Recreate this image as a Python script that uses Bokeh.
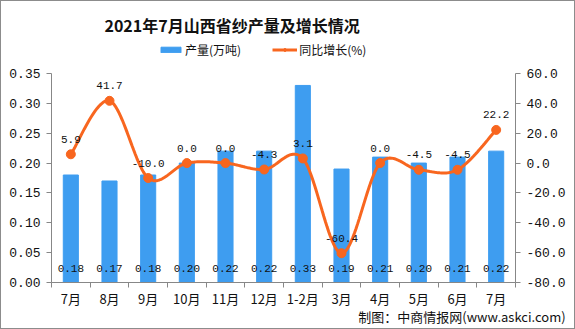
import numpy as np
from bokeh.plotting import figure
from bokeh.layouts import column
from bokeh.models import (Range1d, LinearAxis, FixedTicker, Legend, LegendItem,
                          Label, ColumnDataSource, NumeralTickFormatter)
from bokeh.core.properties import value
from bokeh.embed import file_html
from bokeh.resources import INLINE

# ---- data ----
categories = ["7月", "8月", "9月", "10月", "11月", "12月", "1-2月", "3月", "4月", "5月", "6月", "7月"]
output = [0.18, 0.17, 0.18, 0.20, 0.22, 0.22, 0.33, 0.19, 0.21, 0.20, 0.21, 0.22]
growth = [5.9, 41.7, -10.0, 0.0, 0.0, -4.3, 3.1, -60.4, 0.0, -4.5, -4.5, 22.2]
left_ticks = [0.0, 0.05, 0.10, 0.15, 0.20, 0.25, 0.30, 0.35]
right_ticks = [-80, -60, -40, -20, 0, 20, 40, 60]
title_text = "2021年7月山西省纱产量及增长情况"
bar_name = "产量(万吨)"
line_name = "同比增长(%)"
note_text = "制图：中商情报网(www.askci.com)"

BLUE = "#3E9DF0"
ORANGE = "#F8661F"
AXIS = "#878787"
MONO = "Liberation Mono"
CJK = "Noto Sans CJK SC"
W = 573

n = len(categories)
xs = list(range(n))

# ---------------- header (title + legend) ----------------
head = figure(width=W, height=60, output_backend="svg", toolbar_location=None,
              x_range=Range1d(0, W), y_range=Range1d(0, 60), min_border=0,
              x_axis_location=None, y_axis_location=None)
head.grid.visible = False
head.outline_line_color = None
head.add_layout(Label(x=223, y=37, text=title_text, text_align="center", text_baseline="middle",
                      text_font=CJK, text_font_size="16px", text_font_style="bold",
                      text_color="#111111"))
# legend-only renderers (no drawable points)
empty = ColumnDataSource(dict(x=np.array([np.nan]), y=np.array([np.nan]), top=np.array([np.nan])))
lb = head.vbar(x="x", top="top", width=1, color=BLUE, source=empty)
ll = head.line(x="x", y="y", line_color=ORANGE, line_width=3, source=empty)
ls = head.scatter(x="x", y="y", size=8, color=ORANGE, source=empty)
legend = Legend(items=[LegendItem(label=bar_name, renderers=[lb]),
                       LegendItem(label=line_name, renderers=[ll, ls])],
                orientation="horizontal", location=(107, 3),
                glyph_width=25, glyph_height=7, label_standoff=2, spacing=31,
                padding=0, margin=0, border_line_color=None, background_fill_alpha=0,
                label_text_font=CJK, label_text_font_size="12px", label_text_color="#111111",
                label_height=12)
head.add_layout(legend, "center")

# ---------------- main chart ----------------
p = figure(width=W, height=267, output_backend="svg", toolbar_location=None,
           x_range=Range1d(-0.5, n - 0.5), y_range=Range1d(0, 0.35),
           min_border_left=50, min_border_right=59, min_border_top=12, min_border_bottom=46)
p.outline_line_color = None
p.xgrid.visible = False
p.ygrid.visible = False
p.extra_y_ranges = {"y2": Range1d(-80, 60)}

src = ColumnDataSource(dict(x=xs, output=output, growth=growth, base=[0] * n,
                            olab=["%.2f" % v for v in output],
                            glab=["%.1f" % v for v in growth]))

bars = p.vbar(x="x", top="output", width=0.39, color=BLUE, source=src)


# smoothed line (Catmull-Rom through the data points)
def smooth(xv, yv, steps=24):
    P = np.column_stack([np.asarray(xv, float), np.asarray(yv, float)])
    P = np.vstack([P[0], P, P[-1]])
    segs = []
    t = np.linspace(0, 1, steps, endpoint=False)[:, None]
    for i in range(1, len(P) - 2):
        p0, p1, p2, p3 = P[i - 1], P[i], P[i + 1], P[i + 2]
        seg = 0.5 * (2 * p1 + (-p0 + p2) * t + (2 * p0 - 5 * p1 + 4 * p2 - p3) * t ** 2
                     + (-p0 + 3 * p1 - 3 * p2 + p3) * t ** 3)
        segs.append(seg)
    segs.append(P[-2][None, :])
    S = np.vstack(segs)
    return S[:, 0], S[:, 1]


sx, sy = smooth(xs, growth)
p.line(sx, sy, line_color=ORANGE, line_width=3, y_range_name="y2")
p.scatter(x="x", y="growth", size=9, color=ORANGE, y_range_name="y2", source=src)

# value labels
p.text(x="x", y="base", text="olab", source=src, text_align="center", text_baseline="middle",
       text_font=value(MONO), text_font_size="11px", text_color="#111111", y_offset=-14)
p.text(x="x", y="growth", text="glab", source=src, y_range_name="y2",
       text_align="center", text_baseline="middle",
       text_font=value(MONO), text_font_size="11px", text_color="#111111", y_offset=-15)

# axes
xa = p.xaxis[0]
xa.ticker = FixedTicker(ticks=xs, minor_ticks=[i - 0.5 for i in range(n + 1)])
xa.major_label_overrides = {i: c for i, c in enumerate(categories)}
xa.major_tick_out = 0
xa.major_tick_in = 0
xa.minor_tick_out = 5
xa.minor_tick_in = 0
xa.major_label_standoff = 1
xa.major_label_text_font = CJK
xa.major_label_text_font_size = "13px"
xa.major_label_text_color = "#111111"
xa.axis_line_color = AXIS
xa.minor_tick_line_color = AXIS

# source note drawn as a label-only axis under the category axis
note_x = 10.115
na = LinearAxis(ticker=FixedTicker(ticks=[note_x], minor_ticks=[]))
na.major_label_overrides = {note_x: note_text}
na.axis_line_color = None
na.major_tick_line_color = None
na.minor_tick_line_color = None
na.major_tick_out = 0
na.major_tick_in = 0
na.major_label_standoff = -4
na.major_label_text_font = CJK
na.major_label_text_font_size = "13px"
na.major_label_text_color = "#111111"
p.add_layout(na, "below")

ya = p.yaxis[0]
ya.ticker = FixedTicker(ticks=left_ticks)
ya.formatter = NumeralTickFormatter(format="0.00")
ya.major_tick_out = 5
ya.major_tick_in = 0
ya.minor_tick_out = 0
ya.minor_tick_in = 0
ya.major_label_standoff = 6
ya.major_label_text_font = MONO
ya.major_label_text_font_size = "13px"
ya.major_label_text_color = "#111111"
ya.axis_line_color = AXIS
ya.major_tick_line_color = AXIS

ra = LinearAxis(y_range_name="y2", ticker=FixedTicker(ticks=right_ticks),
                formatter=NumeralTickFormatter(format="0.0"))
ra.major_tick_out = 5
ra.major_tick_in = 0
ra.minor_tick_out = 0
ra.minor_tick_in = 0
ra.major_label_standoff = 6
ra.major_label_text_font = MONO
ra.major_label_text_font_size = "13px"
ra.major_label_text_color = "#111111"
ra.axis_line_color = AXIS
ra.major_tick_line_color = AXIS
p.add_layout(ra, "right")

page = column(head, p, spacing=0, styles={"border": "1px solid #8c8c8c"})

open("out.html", "w").write(file_html(page, INLINE))
